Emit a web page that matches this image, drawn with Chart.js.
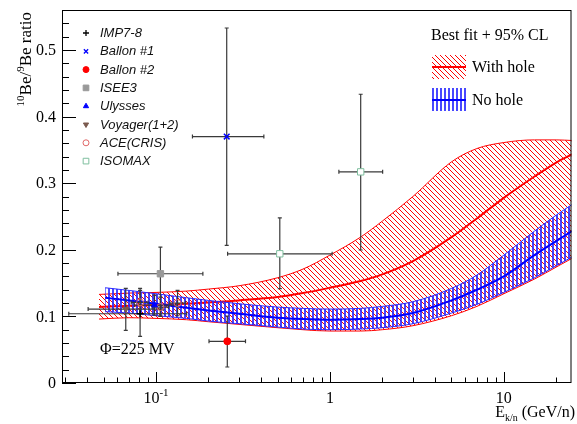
<!DOCTYPE html>
<html>
<head>
<meta charset="utf-8">
<title>10Be/9Be ratio</title>
<script src="https://cdn.jsdelivr.net/npm/chart.js@4.4.1/dist/chart.umd.min.js"></script>
<style>
  html, body { margin: 0; padding: 0; background: #fff; }
  #wrap { width: 577px; height: 424px; }
</style>
</head>
<body>
<div id="wrap"><canvas id="beChart" width="577" height="424"></canvas></div>
<script>
// model bands, best fit + 95% CL (E in GeV/n)
const bandEnergies = [0.047, 0.07, 0.1, 0.15, 0.2, 0.3, 0.5, 0.7, 1, 1.5, 2, 3, 5, 7, 10, 15, 20, 25];
const withHoleHigh = [0.133, 0.135, 0.136, 0.138, 0.141, 0.146, 0.158, 0.171, 0.192, 0.219, 0.243, 0.280, 0.332, 0.352, 0.361, 0.365, 0.365, 0.364];
const withHoleMid  = [0.114, 0.116, 0.117, 0.119, 0.121, 0.124, 0.129, 0.135, 0.143, 0.153, 0.163, 0.183, 0.219, 0.247, 0.278, 0.310, 0.331, 0.344];
const withHoleLow  = [0.096, 0.098, 0.097, 0.095, 0.092, 0.088, 0.083, 0.080, 0.078, 0.078, 0.080, 0.086, 0.101, 0.115, 0.134, 0.156, 0.174, 0.188];

const noHoleEnergies = [0.051, 0.07, 0.1, 0.15, 0.2, 0.3, 0.5, 0.7, 1, 1.5, 2, 3, 5, 7, 10, 15, 20, 25];
const noHoleHigh = [0.143, 0.139, 0.134, 0.128, 0.124, 0.119, 0.114, 0.112, 0.111, 0.112, 0.115, 0.122, 0.142, 0.162, 0.192, 0.228, 0.252, 0.269];
const noHoleMid  = [0.128, 0.124, 0.119, 0.113, 0.109, 0.104, 0.098, 0.096, 0.095, 0.096, 0.098, 0.105, 0.124, 0.140, 0.160, 0.192, 0.213, 0.229];
const noHoleLow  = [0.107, 0.105, 0.101, 0.097, 0.093, 0.089, 0.084, 0.081, 0.080, 0.081, 0.083, 0.089, 0.105, 0.118, 0.136, 0.158, 0.176, 0.190];

// measurements: energy, ratio, and error bar ends
const imp78E = [0.081], imp78R = [0.104];
const imp78ELo = [0.0315], imp78EHi = [0.15], imp78RLo = [0.070], imp78RHi = [0.142];

const ballon1E = [0.255], ballon1R = [0.370];
const ballon1ELo = [0.162], ballon1EHi = [0.417], ballon1RLo = [0.2065], ballon1RHi = [0.533];

const ballon2E = [0.257], ballon2R = [0.0626];
const ballon2ELo = [0.2017], ballon2EHi = [0.327], ballon2RLo = [0.024], ballon2RHi = [0.1006];

const isee3E = [0.106], isee3R = [0.164];
const isee3ELo = [0.0604], isee3EHi = [0.186], isee3RLo = [0.1006], isee3RHi = [0.204];

const ulyssesE = [0.098], ulyssesR = [0.117];
const ulyssesELo = [0.075], ulyssesEHi = [0.13], ulyssesRLo = [0.102], ulyssesRHi = [0.132];

const voyagerE = [0.067], voyagerR = [0.111];
const voyagerELo = [0.0407], voyagerEHi = [0.11], voyagerRLo = [0.079], voyagerRHi = [0.142];

const aceE = [0.081, 0.106, 0.133], aceR = [0.121, 0.114, 0.120];
const aceELo = [0.072, 0.095, 0.12], aceEHi = [0.09, 0.118, 0.148];
const aceRLo = [0.104, 0.100, 0.101], aceRHi = [0.139, 0.129, 0.139];

const isomaxE = [0.515, 1.503], isomaxR = [0.194, 0.317];
const isomaxELo = [0.258, 1.126], isomaxEHi = [1.03, 2.01];
const isomaxRLo = [0.1417, 0.1997], isomaxRHi = [0.248, 0.4335];

// axis ticks
const yTickValues = [0, 0.1, 0.2, 0.3, 0.4, 0.5];
const yTickLabels = ["0", "0.1", "0.2", "0.3", "0.4", "0.5"];
const xTickValues = [0.1, 1, 10];
const xTickLabels = ["10", "1", "10"];
const xTickExponents = ["-1", "", ""];

const experiments = [
  { label: "IMP7-8", e: imp78E, r: imp78R, eLo: imp78ELo, eHi: imp78EHi, rLo: imp78RLo, rHi: imp78RHi,
    style: "cross", color: "#000000", fill: "#000000", radius: 3.5, rot: 0 },
  { label: "Ballon #1", e: ballon1E, r: ballon1R, eLo: ballon1ELo, eHi: ballon1EHi, rLo: ballon1RLo, rHi: ballon1RHi,
    style: "cross", color: "#0000ff", fill: "#0000ff", radius: 4, rot: 45 },
  { label: "Ballon #2", e: ballon2E, r: ballon2R, eLo: ballon2ELo, eHi: ballon2EHi, rLo: ballon2RLo, rHi: ballon2RHi,
    style: "circle", color: "#ff0000", fill: "#ff0000", radius: 3.5, rot: 0 },
  { label: "ISEE3", e: isee3E, r: isee3R, eLo: isee3ELo, eHi: isee3EHi, rLo: isee3RLo, rHi: isee3RHi,
    style: "rect", color: "#999999", fill: "#999999", radius: 4.5, rot: 0 },
  { label: "Ulysses", e: ulyssesE, r: ulyssesR, eLo: ulyssesELo, eHi: ulyssesEHi, rLo: ulyssesRLo, rHi: ulyssesRHi,
    style: "triangle", color: "#0000ff", fill: "#0000ff", radius: 3.5, rot: 0 },
  { label: "Voyager(1+2)", e: voyagerE, r: voyagerR, eLo: voyagerELo, eHi: voyagerEHi, rLo: voyagerRLo, rHi: voyagerRHi,
    style: "triangle", color: "#7a5a4e", fill: "#7a5a4e", radius: 3.5, rot: 180 },
  { label: "ACE(CRIS)", e: aceE, r: aceR, eLo: aceELo, eHi: aceEHi, rLo: aceRLo, rHi: aceRHi,
    style: "circle", color: "#e06666", fill: "rgba(0,0,0,0)", radius: 3.5, rot: 0 },
  { label: "ISOMAX", e: isomaxE, r: isomaxR, eLo: isomaxELo, eHi: isomaxEHi, rLo: isomaxRLo, rHi: isomaxRHi,
    style: "rect", color: "#7fbf9f", fill: "#ffffff", radius: 4.5, rot: 0 }
];

const SERIF = "'Liberation Serif', 'DejaVu Serif', serif";
const SANS = "'Liberation Sans', Arial, sans-serif";

const canvas = document.getElementById("beChart");
const ctx = canvas.getContext("2d");

// hatch patterns like ROOT fill styles
function makeRedHatch() {
  const c = document.createElement("canvas");
  c.width = 5; c.height = 5;
  const g = c.getContext("2d");
  g.strokeStyle = "#ff0000";
  g.lineWidth = 1;
  g.beginPath();
  g.moveTo(0, 0); g.lineTo(5, 5);
  g.moveTo(-1, 4); g.lineTo(1, 6);
  g.moveTo(4, -1); g.lineTo(6, 1);
  g.stroke();
  return ctx.createPattern(c, "repeat");
}
function makeBlueHatch() {
  const c = document.createElement("canvas");
  c.width = 4; c.height = 4;
  const g = c.getContext("2d");
  g.fillStyle = "rgba(40,40,255,0.85)";
  g.fillRect(0, 0, 2, 4);
  return ctx.createPattern(c, "repeat");
}
const redHatch = makeRedHatch();
const blueHatch = makeBlueHatch();

function pts(xs, ys) {
  return xs.map((x, i) => ({ x: x, y: ys[i] }));
}

function bandLine(data, color, width, order, fill, bg) {
  return {
    type: "line",
    data: data,
    borderColor: color,
    borderWidth: width,
    pointRadius: 0,
    cubicInterpolationMode: "monotone",
    fill: fill || false,
    backgroundColor: bg || "rgba(0,0,0,0)",
    order: order
  };
}

const datasets = [
  bandLine(pts(bandEnergies, withHoleHigh), "#ff0000", 1, 6, "+1", redHatch),
  bandLine(pts(bandEnergies, withHoleLow), "#ff0000", 1, 5),
  bandLine(pts(bandEnergies, withHoleMid), "#ff0000", 2, 4),
  bandLine(pts(noHoleEnergies, noHoleHigh), "#2a2aff", 1, 3, "+1", blueHatch),
  bandLine(pts(noHoleEnergies, noHoleLow), "#2a2aff", 1, 2),
  bandLine(pts(noHoleEnergies, noHoleMid), "#0000ff", 2, 1)
];

experiments.forEach(ex => {
  datasets.push({
    type: "line",
    isMarker: true,
    showLine: false,
    data: pts(ex.e, ex.r),
    pointStyle: ex.style,
    pointRadius: ex.radius,
    pointRotation: ex.rot,
    pointBackgroundColor: ex.fill,
    pointBorderColor: ex.color,
    pointBorderWidth: ex.style === "cross" ? 1.5 : 1,
    order: 0
  });
});

// error bars, drawn just before the first marker dataset
const errorBars = {
  id: "errorBars",
  beforeDraw(chart) { chart.$barsDone = false; },
  beforeDatasetDraw(chart, args) {
    const ds = chart.data.datasets[args.index];
    if (!ds.isMarker || chart.$barsDone) return;
    chart.$barsDone = true;
    const c = chart.ctx, xs = chart.scales.x, ys = chart.scales.y;
    c.save();
    c.strokeStyle = "#3a3a3a";
    c.lineWidth = 1.2;
    experiments.forEach(ex => {
      ex.e.forEach((e, i) => {
        const px = xs.getPixelForValue(e), py = ys.getPixelForValue(ex.r[i]);
        const x0 = xs.getPixelForValue(ex.eLo[i]), x1 = xs.getPixelForValue(ex.eHi[i]);
        const y0 = ys.getPixelForValue(ex.rLo[i]), y1 = ys.getPixelForValue(ex.rHi[i]);
        c.beginPath();
        c.moveTo(x0, py); c.lineTo(x1, py);
        c.moveTo(px, y0); c.lineTo(px, y1);
        c.moveTo(x0, py - 2); c.lineTo(x0, py + 2);
        c.moveTo(x1, py - 2); c.lineTo(x1, py + 2);
        c.moveTo(px - 2, y0); c.lineTo(px + 2, y0);
        c.moveTo(px - 2, y1); c.lineTo(px + 2, y1);
        c.stroke();
      });
    });
    c.restore();
  }
};

function drawMarker(c, ex, x, y, r) {
  c.save();
  c.fillStyle = ex.fill;
  c.strokeStyle = ex.color;
  c.lineWidth = ex.style === "cross" ? 1.3 : 1;
  Chart.helpers.drawPoint(c, { pointStyle: ex.style, radius: r, rotation: ex.rot, borderWidth: c.lineWidth }, x, y);
  c.restore();
}

// axes, labels, legends, frame (ROOT style)
const rootDecor = {
  id: "rootDecor",
  afterDraw(chart) {
    const c = chart.ctx, a = chart.chartArea, xs = chart.scales.x, ys = chart.scales.y;
    c.save();
    c.strokeStyle = "#000";
    c.lineWidth = 1;
    c.strokeRect(a.left + 0.5, a.top + 0.5, a.right - a.left - 1, a.bottom - a.top - 1);

    // y ticks
    c.beginPath();
    for (let i = 0; i <= 27; i++) {
      const py = Math.round(ys.getPixelForValue(i * 0.02)) + 0.5;
      const len = i % 5 === 0 ? 14 : 7;
      c.moveTo(a.left, py); c.lineTo(a.left + len, py);
    }
    // x ticks
    for (let d = -2; d <= 1; d++) {
      for (let m = 1; m <= 9; m++) {
        const v = m * Math.pow(10, d);
        if (v < xs.min || v > xs.max) continue;
        const px = Math.round(xs.getPixelForValue(v)) + 0.5;
        const len = m === 1 ? 11 : 5.5;
        c.moveTo(px, a.bottom); c.lineTo(px, a.bottom - len);
      }
    }
    c.stroke();

    c.fillStyle = "#000";
    c.font = "16px " + SERIF;
    c.textAlign = "right";
    c.textBaseline = "middle";
    yTickValues.forEach((v, i) => {
      c.fillText(yTickLabels[i], 56, ys.getPixelForValue(v) + 1);
    });

    c.textBaseline = "alphabetic";
    xTickValues.forEach((v, i) => {
      const px = xs.getPixelForValue(v);
      c.font = "16px " + SERIF;
      const w1 = c.measureText(xTickLabels[i]).width;
      c.font = "11px " + SERIF;
      const w2 = xTickExponents[i] ? c.measureText(xTickExponents[i]).width : 0;
      const x0 = px - (w1 + w2) / 2;
      c.textAlign = "left";
      c.font = "16px " + SERIF;
      c.fillText(xTickLabels[i], x0, 403);
      if (w2) {
        c.font = "11px " + SERIF;
        c.fillText(xTickExponents[i], x0 + w1, 396);
      }
    });

    // x title: E_k/n (GeV/n)
    c.font = "16px " + SERIF;
    const tail = " (GeV/n)";
    const wTail = c.measureText(tail).width;
    const wE = c.measureText("E").width;
    c.font = "10px " + SERIF;
    const wSub = c.measureText("k/n").width;
    let tx = 575 - wTail - wSub - wE;
    c.textAlign = "left";
    c.font = "16px " + SERIF;
    c.fillText("E", tx, 417);
    c.font = "10px " + SERIF;
    c.fillText("k/n", tx + wE, 421);
    c.font = "16px " + SERIF;
    c.fillText(tail, tx + wE + wSub, 417);

    // y title: 10Be/9Be ratio
    const parts = [["10", true], ["Be/", false], ["9", true], ["Be ratio", false]];
    let total = 0;
    parts.forEach(p => {
      c.font = (p[1] ? "11px " : "17px ") + SERIF;
      total += c.measureText(p[0]).width;
    });
    c.save();
    c.translate(31, 12);
    c.rotate(-Math.PI / 2);
    let cx = -total;
    parts.forEach(p => {
      c.font = (p[1] ? "11px " : "17px ") + SERIF;
      c.fillText(p[0], cx, p[1] ? -7 : 0);
      cx += c.measureText(p[0]).width;
    });
    c.restore();

    // experiment legend
    experiments.forEach((ex, i) => {
      const ly = 33 + i * 18.3;
      drawMarker(c, ex, 86, ly, ex.style === "rect" ? 4 : 3);
      c.fillStyle = "#111";
      c.font = "italic 13px " + SANS;
      c.textAlign = "left";
      c.textBaseline = "middle";
      c.fillText(ex.label, 100, ly + 0.5);
    });

    // band legend
    c.textBaseline = "alphabetic";
    c.fillStyle = "#000";
    c.font = "16px " + SERIF;
    c.fillText("Best fit + 95% CL", 431, 40);

    c.fillStyle = redHatch;
    c.fillRect(432, 55, 34, 24);
    c.strokeStyle = "#ff0000";
    c.lineWidth = 2;
    c.beginPath(); c.moveTo(432, 67); c.lineTo(466, 67); c.stroke();

    c.fillStyle = blueHatch;
    c.fillRect(432, 88, 34, 23);
    c.strokeStyle = "#0000ff";
    c.beginPath(); c.moveTo(432, 100); c.lineTo(466, 100); c.stroke();

    c.fillStyle = "#000";
    c.textBaseline = "middle";
    c.fillText("With hole", 472, 68);
    c.fillText("No hole", 472, 101);

    c.fillText("\u03A6=225 MV", 100, 350);
    c.restore();
  }
};

window.beChart = new Chart(ctx, {
  type: "line",
  data: { datasets: datasets },
  options: {
    responsive: false,
    animation: false,
    devicePixelRatio: 1,
    events: [],
    layout: { padding: { left: 62, right: 2, top: 10, bottom: 41 } },
    scales: {
      x: { type: "logarithmic", min: 0.0288, max: 24.5, display: false },
      y: { type: "linear", min: 0, max: 0.56, display: false }
    },
    plugins: {
      legend: { display: false },
      tooltip: { enabled: false },
      filler: { drawTime: "beforeDatasetDraw" }
    }
  },
  plugins: [errorBars, rootDecor]
});
</script>
</body>
</html>
